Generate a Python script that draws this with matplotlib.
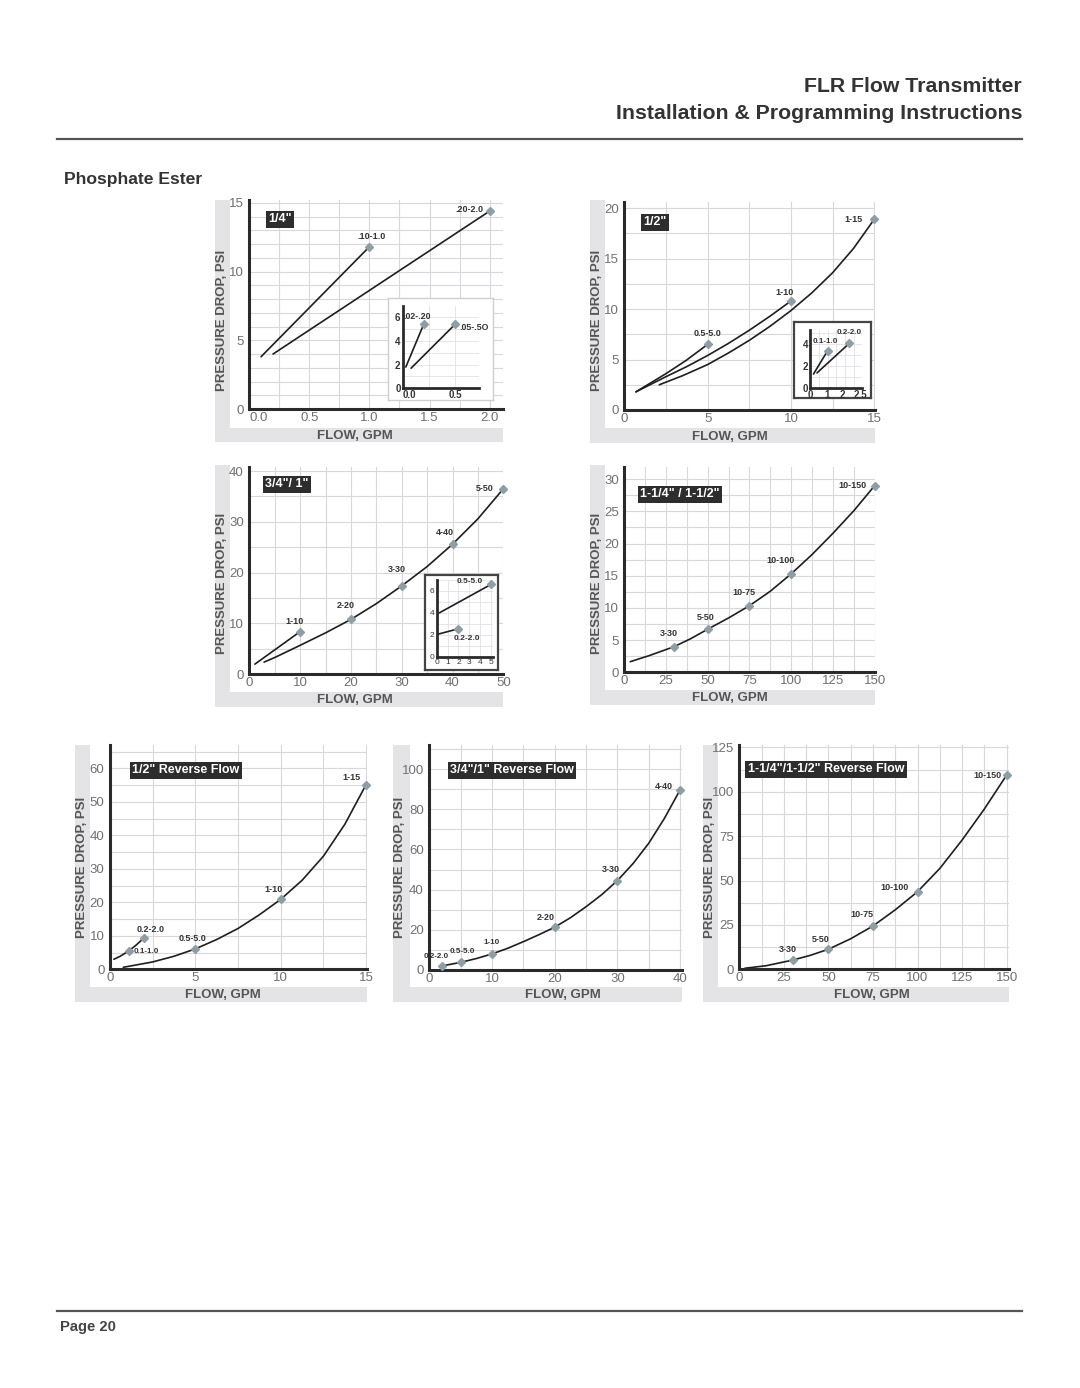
import matplotlib.pyplot as plt
from matplotlib.patches import Rectangle
from matplotlib.lines import Line2D
from matplotlib.ticker import MultipleLocator

W, H = 1080, 1388

# ---- 1/4" ----
q1_lo_flow = [0.1, 1.0]
q1_lo_psi = [3.8, 11.8]
q1_hi_flow = [0.2, 2.0]
q1_hi_psi = [4.0, 14.4]
q1_labels = [".10-1.0", ".20-2.0"]
q1_in_lo_flow = [0.03, 0.2]
q1_in_lo_psi = [1.8, 5.4]
q1_in_hi_flow = [0.08, 0.5]
q1_in_hi_psi = [1.7, 5.4]
q1_in_labels = [".02-.20", ".05-.5O"]

# ---- 1/2" ----
h_a_flow = [0.7, 1.5, 2.5, 3.7, 5.0]
h_a_psi = [1.8, 2.6, 3.6, 4.9, 6.5]
h_b_flow = [0.7, 2.5, 3.75, 5.0, 6.25, 7.5, 8.75, 10.0]
h_b_psi = [1.8, 3.3, 4.3, 5.4, 6.6, 7.9, 9.3, 10.8]
h_c_flow = [2.1, 3.5, 5.0, 6.25, 7.5, 8.75, 10.0, 11.25, 12.5, 13.75, 15.0]
h_c_psi = [2.5, 3.4, 4.5, 5.65, 6.9, 8.3, 9.85, 11.6, 13.6, 16.0, 18.9]
h_labels = ["0.5-5.0", "1-10", "1-15"]
h_in_a_flow = [0.2, 1.0]
h_in_a_psi = [1.3, 3.4]
h_in_b_flow = [0.4, 2.25]
h_in_b_psi = [1.4, 4.1]
h_in_labels = ["0.1-1.0", "0.2-2.0"]

# ---- 3/4"/1" ----
t_a_flow = [1.1, 10.0]
t_a_psi = [2.0, 8.4]
t_b_flow = [2.9, 5, 10, 15, 20, 25, 30, 35, 40, 45, 50]
t_b_psi = [2.4, 3.3, 5.7, 8.15, 10.8, 13.9, 17.4, 21.2, 25.6, 30.6, 36.5]
t_mark_flow = [10, 20, 30, 40, 50]
t_mark_psi = [8.4, 10.8, 17.4, 25.6, 36.5]
t_labels = ["1-10", "2-20", "3-30", "4-40", "5-50"]
t_in_a_flow = [0.24, 5.0]
t_in_a_psi = [4.0, 6.6]
t_in_b_flow = [0.1, 2.0]
t_in_b_psi = [2.05, 2.55]
t_in_labels = ["0.5-5.0", "0.2-2.0"]

# ---- 1-1/4"/1-1/2" ----
b_flow = [3.6, 15, 30, 40, 50, 62.5, 75, 87.5, 100, 112.5, 125, 137.5, 150]
b_psi = [1.65, 2.6, 4.0, 5.25, 6.7, 8.45, 10.35, 12.6, 15.3, 18.3, 21.6, 25.1, 29.0]
b_mark_flow = [30, 50, 75, 100, 150]
b_mark_psi = [4.0, 6.7, 10.35, 15.3, 29.0]
b_labels = ["3-30", "5-50", "10-75", "10-100", "10-150"]

# ---- 1/2" reverse ----
r1_a_flow = [0.23, 0.6, 1.1, 1.5, 2.0]
r1_a_psi = [3.0, 3.9, 5.5, 7.1, 9.4]
r1_b_flow = [0.78, 2.5, 3.75, 5.0, 6.25, 7.5, 8.75, 10.0, 11.25, 12.5, 13.75, 15.0]
r1_b_psi = [0.6, 2.2, 3.9, 6.1, 8.9, 12.2, 16.3, 20.9, 26.6, 33.8, 43.3, 55.2]
r1_mark_flow = [1.1, 2.0, 5.0, 10.0, 15.0]
r1_mark_psi = [5.5, 9.4, 6.1, 20.9, 55.2]
r1_labels = ["0.1-1.0", "0.2-2.0", "0.5-5.0", "1-10", "1-15"]

# ---- 3/4"/1" reverse ----
r2_flow = [2, 5, 7.5, 10, 12.5, 15, 17.5, 20, 22.5, 25, 27.5, 30, 32.5, 35, 37.5, 40]
r2_psi = [2.0, 3.8, 5.7, 8.0, 10.8, 14.1, 17.6, 21.3, 26.0, 31.5, 37.5, 44.5, 53.0, 63.1,
          75.5, 89.7]
r2_mark_flow = [2, 5, 10, 20, 30, 40]
r2_mark_psi = [2.0, 3.8, 8.0, 21.3, 44.5, 89.7]
r2_labels = ["0.2-2.0", "0.5-5.0", "1-10", "2-20", "3-30", "4-40"]

# ---- 1-1/4"/1-1/2" reverse ----
r3_flow = [3.2, 15, 30, 40, 50, 62.5, 75, 87.5, 100, 112.5, 125, 137.5, 150]
r3_psi = [0.6, 2.0, 5.2, 7.9, 11.3, 17.2, 24.4, 33.5, 43.7, 56.8, 72.8, 90.3, 109.4]
r3_mark_flow = [30, 50, 75, 100, 150]
r3_mark_psi = [5.2, 11.3, 24.4, 43.7, 109.4]
r3_labels = ["3-30", "5-50", "10-75", "10-100", "10-150"]

plt.rcParams['font.family'] = ['Liberation Sans', 'DejaVu Sans']
NARROW = ['Liberation Sans Narrow', 'Liberation Sans', 'DejaVu Sans']
GRAY = '#e4e4e6'
INK = '#1e1e1e'
MARK = '#8d9ea4'

fig = plt.figure(figsize=(W / 100, H / 100), dpi=100)


def fr(x0, y0, x1, y1):
    return [x0 / W, 1 - y1 / H, (x1 - x0) / W, (y1 - y0) / H]


def rect(x0, y0, x1, y1, fc, z=-5):
    fig.add_artist(Rectangle((x0 / W, 1 - y1 / H), (x1 - x0) / W, (y1 - y0) / H,
                             transform=fig.transFigure, fc=fc, ec='none', zorder=z))


def ftext(x, y, s, **kw):
    return fig.text(x / W, 1 - y / H, s, **kw)


def hline(x0, x1, y):
    fig.add_artist(Line2D([x0 / W, x1 / W], [1 - y / H, 1 - y / H],
                          transform=fig.transFigure, color='#555555', lw=1.6))


def chart(frame, field, axbox, xlim, ylim, xt, xtl, yt, gx, gy, title, tpos, xlab, ylab):
    rect(*frame, fc=GRAY)
    rect(*field, fc='white', z=-4)
    ax = fig.add_axes(fr(*axbox))
    ax.set_xlim(*xlim)
    ax.set_ylim(*ylim)
    ax.set_xticks(xt)
    ax.set_xticklabels(xtl)
    ax.set_yticks(yt)
    ax.set_yticklabels([str(v) for v in yt])
    ax.xaxis.set_minor_locator(MultipleLocator(gx))
    ax.yaxis.set_minor_locator(MultipleLocator(gy))
    ax.grid(which='both', color='#d8d8dc', lw=0.8)
    ax.set_axisbelow(True)
    for s in ['top', 'right']:
        ax.spines[s].set_visible(False)
    for s in ['left', 'bottom']:
        ax.spines[s].set_color('#2a2a2a')
        ax.spines[s].set_linewidth(2.2)
    ax.tick_params(which='both', length=0, labelsize=9.5, labelcolor='#707070')
    ax.tick_params(axis='y', pad=4)
    ax.tick_params(axis='x', pad=2)
    for lb in ax.get_xticklabels() + ax.get_yticklabels():
        lb.set_family(NARROW)
    ftext(tpos[0], tpos[1], title, ha='left', va='center', color='white',
          fontsize=9, fontweight='bold',
          bbox=dict(boxstyle='square,pad=0.2', fc='#2d2d2d', ec='none'))
    ftext(xlab[0], xlab[1], 'FLOW, GPM', ha='center', va='center',
          fontsize=9.5, fontweight='bold', color='#555555')
    ftext(ylab[0], ylab[1], 'PRESSURE DROP, PSI', ha='center', va='center',
          rotation=90, fontsize=9.5, fontweight='bold', color='#555555')
    return ax


def inset(box, axbox, xlim, ylim, xt, xtl, yt, gx, gy, edge, elw, fs, weight):
    holder = fig.add_axes(fr(*box), zorder=3)
    holder.set_xticks([])
    holder.set_yticks([])
    holder.set_facecolor('white')
    for s in holder.spines.values():
        s.set_color(edge)
        s.set_linewidth(elw)
    ax = fig.add_axes(fr(*axbox), zorder=4)
    ax.patch.set_alpha(0)
    ax.set_xlim(*xlim)
    ax.set_ylim(*ylim)
    ax.set_xticks(xt)
    ax.set_xticklabels(xtl)
    ax.set_yticks(yt)
    ax.set_yticklabels([str(v) for v in yt])
    ax.xaxis.set_minor_locator(MultipleLocator(gx))
    ax.yaxis.set_minor_locator(MultipleLocator(gy))
    ax.grid(which='both', color='#e2e2e6', lw=0.6)
    ax.set_axisbelow(True)
    for s in ['top', 'right']:
        ax.spines[s].set_visible(False)
    for s in ['left', 'bottom']:
        ax.spines[s].set_color('#2a2a2a')
        ax.spines[s].set_linewidth(2.0)
    ax.tick_params(which='both', length=0, labelsize=fs, labelcolor='#333333', pad=1.5)
    for lb in ax.get_xticklabels() + ax.get_yticklabels():
        lb.set_fontweight(weight)
    return ax


def curve(ax, x, y):
    ax.plot(x, y, color=INK, lw=1.2, solid_capstyle='round', solid_joinstyle='round')


def marks(ax, xs, ys, labels, offs, fs=6.5, family=None):
    ax.plot(xs, ys, ls='none', marker='D', ms=3.8, color=MARK, clip_on=False, zorder=5)
    for x, y, s, (dx, dy, ha) in zip(xs, ys, labels, offs):
        ax.annotate(s, (x, y), xytext=(dx, dy), textcoords='offset pixels',
                    ha=ha, va='center', fontsize=fs, fontweight='bold', color='#333333',
                    family=family if family else plt.rcParams['font.family'])


# ---------- page furniture ----------
ftext(1022, 92, 'FLR Flow Transmitter', ha='right', va='baseline',
      fontsize=15.3, fontweight='bold', color='#333333')
ftext(1022, 119, 'Installation & Programming Instructions', ha='right', va='baseline',
      fontsize=15.3, fontweight='bold', color='#333333')
hline(57, 1022, 139)
ftext(64, 184, 'Phosphate Ester', ha='left', va='baseline',
      fontsize=12.6, fontweight='bold', color='#333333')
hline(57, 1022, 1311)
ftext(60, 1331, 'Page 20', ha='left', va='baseline',
      fontsize=10.6, fontweight='bold', color='#444444')

# ---------- 1/4" ----------
ax = chart((215, 200, 503, 442), (230, 200, 503, 428), (249, 200, 503, 409),
           (0, 2.11), (0, 15.2), [0, 0.5, 1.0, 1.5, 2.0],
           ['0.0', '0.5', '1.0', '1.5', '2.0'], [0, 5, 10, 15], 0.25, 1.0,
           '1/4"', (268, 219), (355, 436), (222, 320))
ax.get_xticklabels()[0].set_ha('left')
curve(ax, q1_lo_flow, q1_lo_psi)
curve(ax, q1_hi_flow, q1_hi_psi)
marks(ax, [q1_lo_flow[-1], q1_hi_flow[-1]], [q1_lo_psi[-1], q1_hi_psi[-1]], q1_labels,
      [(2, 10, 'center'), (-6, 1, 'right')])
ai = inset((388, 298, 493, 400), (402.7, 306, 479, 388.3), (0, 0.73), (0, 6.96),
           [0, 0.5], ['0.0', '0.5'], [0, 2, 4, 6], 0.25, 1.0, '#cfcfcf', 1.0, 7, 'bold')
ai.get_xticklabels()[0].set_ha('left')
curve(ai, q1_in_lo_flow, q1_in_lo_psi)
curve(ai, q1_in_hi_flow, q1_in_hi_psi)
marks(ai, [q1_in_lo_flow[-1], q1_in_hi_flow[-1]], [q1_in_lo_psi[-1], q1_in_hi_psi[-1]],
      q1_in_labels, [(-6, 8, 'center'), (4, -3, 'left')], fs=6.3)

# ---------- 1/2" ----------
ax = chart((590, 200, 875, 443), (605, 200, 875, 428), (624.3, 202, 875, 410),
           (0, 15.04), (0, 20.6), [0, 5, 10, 15], ['0', '5', '10', '15'],
           [0, 5, 10, 15, 20], 2.5, 2.5, '1/2"', (643, 222), (730, 437), (597, 320))
curve(ax, h_a_flow, h_a_psi)
curve(ax, h_b_flow, h_b_psi)
curve(ax, h_c_flow, h_c_psi)
marks(ax, [h_a_flow[-1], h_b_flow[-1], h_c_flow[-1]], [h_a_psi[-1], h_b_psi[-1], h_c_psi[-1]],
      h_labels, [(0, 11, 'center'), (-6, 8, 'center'), (-12, 0, 'right')])
ai = inset((794, 322, 871, 398), (810, 330, 861.7, 388.3), (0, 2.95), (0, 5.3),
           [0, 1, 2, 2.5], ['0', '1', '2', '2.5'], [0, 2, 4], 0.5, 1.0, '#444444', 1.6, 7, 'bold')
ai.get_xticklabels()[2].set_ha('right')
ai.get_xticklabels()[3].set_ha('left')
curve(ai, h_in_a_flow, h_in_a_psi)
curve(ai, h_in_b_flow, h_in_b_psi)
marks(ai, [h_in_a_flow[-1], h_in_b_flow[-1]], [h_in_a_psi[-1], h_in_b_psi[-1]],
      h_in_labels, [(-2, 9, 'center'), (0, 11, 'center')], fs=5.8)

# ---------- 3/4"/1" ----------
ax = chart((215, 465, 503, 707), (230, 465, 503, 692), (249.3, 467, 503.3, 674.3),
           (0, 50), (0, 40.8), [0, 10, 20, 30, 40, 50], ['0', '10', '20', '30', '40', '50'],
           [0, 10, 20, 30, 40], 5, 5, '3/4"/ 1"', (265, 484), (355, 700), (222, 583))
curve(ax, t_a_flow, t_a_psi)
curve(ax, t_b_flow, t_b_psi)
marks(ax, t_mark_flow, t_mark_psi, t_labels,
      [(-6, 10, 'center'), (-5, 14, 'center'), (-5, 16, 'center'), (-8, 12, 'center'),
       (-10, 0, 'right')])
ai = inset((425, 575, 498, 670), (436.7, 580, 492.7, 656.7), (0, 5.15), (0, 7.0),
           [0, 1, 2, 3, 4, 5], ['0', '1', '2', '3', '4', '5'], [0, 2, 4, 6], 1, 1,
           '#444444', 1.6, 6, 'normal')
curve(ai, t_in_a_flow, t_in_a_psi)
curve(ai, t_in_b_flow, t_in_b_psi)
marks(ai, [t_in_a_flow[-1], t_in_b_flow[-1]], [t_in_a_psi[-1], t_in_b_psi[-1]],
      t_in_labels, [(-21, 3, 'center'), (8, -10, 'center')], fs=6)

# ---------- 1-1/4"/1-1/2" ----------
ax = chart((590, 465, 875, 705), (605, 465, 875, 690), (624.3, 467, 875, 672.3),
           (0, 150.2), (0, 31.9), [0, 25, 50, 75, 100, 125, 150],
           ['0', '25', '50', '75', '100', '125', '150'], [0, 5, 10, 15, 20, 25, 30],
           12.5, 2.5, '1-1/4" / 1-1/2"', (640, 494), (730, 698), (597, 583))
curve(ax, b_flow, b_psi)
marks(ax, b_mark_flow, b_mark_psi, b_labels,
      [(-6, 13, 'center'), (-2, 12, 'center'), (-6, 13, 'center'), (-11, 13, 'center'),
       (-8, 0, 'right')])

# ---------- 1/2" reverse ----------
ax = chart((75, 745, 367, 1002), (90, 745, 367, 987), (110, 745, 367, 969.3),
           (0, 15.05), (0, 67), [0, 5, 10, 15], ['0', '5', '10', '15'],
           [0, 10, 20, 30, 40, 50, 60], 2.5, 5, '1/2" Reverse Flow', (132, 770),
           (223, 995), (82, 867))
curve(ax, r1_a_flow, r1_a_psi)
curve(ax, r1_b_flow, r1_b_psi)
marks(ax, r1_mark_flow[:1], r1_mark_psi[:1], r1_labels[:1], [(5, -1, 'left')],
      fs=5.8, family=NARROW)
marks(ax, r1_mark_flow[1:], r1_mark_psi[1:], r1_labels[1:],
      [(6, 8, 'center'), (-3, 10, 'center'), (-7, 10, 'center'), (-15, 7, 'center')])

# ---------- 3/4"/1" reverse ----------
ax = chart((393, 745, 682, 1002), (410, 745, 682, 987), (429.3, 745, 682, 970),
           (0, 40.3), (0, 112), [0, 10, 20, 30, 40], ['0', '10', '20', '30', '40'],
           [0, 20, 40, 60, 80, 100], 5, 10, '3/4"/1" Reverse Flow', (450, 770),
           (563, 995), (400, 867))
curve(ax, r2_flow, r2_psi)
marks(ax, r2_mark_flow[:3], r2_mark_psi[:3], r2_labels[:3],
      [(-6, 9, 'center'), (2, 11, 'center'), (0, 11, 'center')], fs=5.8, family=NARROW)
marks(ax, r2_mark_flow[3:], r2_mark_psi[3:], r2_labels[3:],
      [(-9, 10, 'center'), (-7, 11, 'center'), (-16, 3, 'center')])

# ---------- 1-1/4"/1-1/2" reverse ----------
ax = chart((703, 745, 1009, 1002), (718, 745, 1009, 987), (739.3, 745, 1009, 969.3),
           (0, 151.3), (0, 126.3), [0, 25, 50, 75, 100, 125, 150],
           ['0', '25', '50', '75', '100', '125', '150'], [0, 25, 50, 75, 100, 125],
           12.5, 12.5, '1-1/4"/1-1/2" Reverse Flow', (748, 769), (872, 995), (710, 867))
curve(ax, r3_flow, r3_psi)
marks(ax, r3_mark_flow, r3_mark_psi, r3_labels,
      [(-5, 11, 'center'), (-8, 10, 'center'), (-11, 11, 'center'), (-23, 4, 'center'),
       (-19, 0, 'center')])

fig.savefig('out.png', dpi=100, facecolor='white')
